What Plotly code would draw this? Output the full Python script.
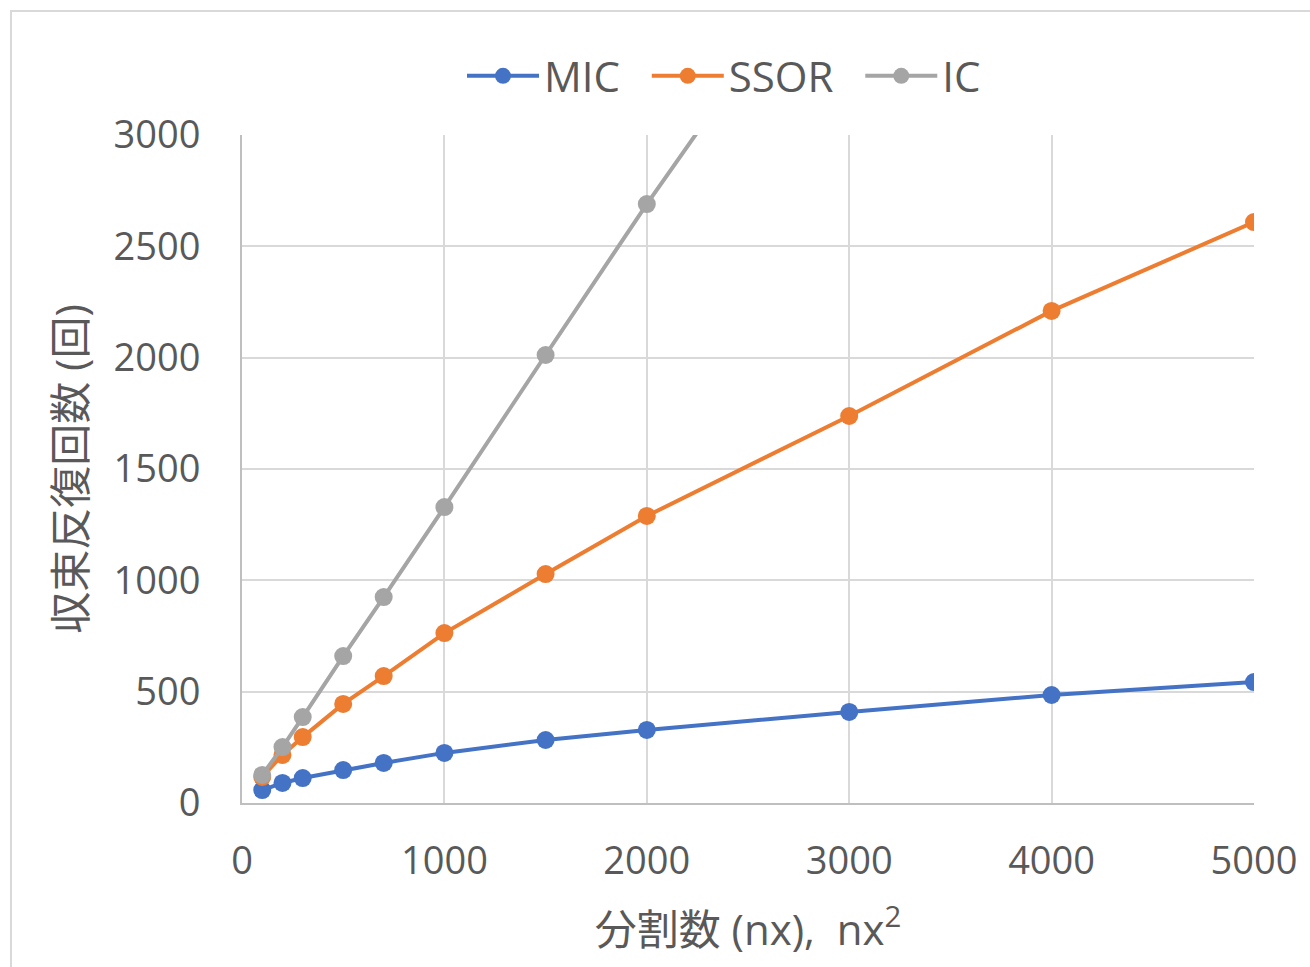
import plotly.graph_objects as go

nx = [100, 200, 300, 500, 700, 1000, 1500, 2000, 3000, 4000, 5000]
mic = [58, 90, 112, 148, 180, 225, 283, 328, 409, 485, 543]
ssor = [117, 216, 296, 445, 570, 763, 1028, 1289, 1738, 2210, 2609]
nx_ic = [100, 200, 300, 500, 700, 1000, 1500, 2000, 3000]
ic = [126, 251, 386, 660, 925, 1329, 2012, 2690, 3980]

series = [("MIC", nx, mic, "#4472C4"), ("SSOR", nx, ssor, "#ED7D31"), ("IC", nx_ic, ic, "#A5A5A5")]

W, H = 1310, 967
L, R, T, B = 242, 56, 135, 164
pw, ph = W - L - R, H - T - B

fig = go.Figure()
for name, xs, ys, c in series:
    fig.add_trace(go.Scatter(x=xs, y=ys, name=name + "\u00a0\u00a0", mode="lines+markers",
                             line=dict(color=c, width=4),
                             marker=dict(color=c, size=18)))

font = "Open Sans, Noto Sans CJK JP, sans-serif"
fig.update_layout(
    width=W, height=H,
    margin=dict(l=L, r=R, t=T, b=B),
    plot_bgcolor="white", paper_bgcolor="white",
    font=dict(family=font, color="#595959", size=38),
    legend=dict(orientation="h", x=(735 - L) / pw, xanchor="center", y=1 + (135 - 76) / ph,
                yanchor="middle", font=dict(size=42, color="#595959"), itemwidth=72,
                tracegroupgap=0),
    xaxis=dict(range=[0, 5000], tickvals=[0, 1000, 2000, 3000, 4000, 5000],
               showgrid=True, gridcolor="#D9D9D9", gridwidth=2,
               showline=True, linecolor="#BFBFBF", linewidth=2, mirror=False,
               zeroline=False, ticks="", tickfont=dict(size=38), ticklabelstandoff=23,
               title=dict(text="分割数 (nx),  nx<sup>2</sup>", font=dict(size=42), standoff=32)),
    yaxis=dict(range=[0, 3000], tickvals=[0, 500, 1000, 1500, 2000, 2500, 3000],
               showgrid=True, gridcolor="#D9D9D9", gridwidth=2,
               showline=True, linecolor="#BFBFBF", linewidth=2,
               zeroline=False, ticks="", tickfont=dict(size=38), ticklabelstandoff=32,
               title=dict(text="収束反復回数 (回)", font=dict(size=42), standoff=14)),
    shapes=[dict(type="rect", xref="paper", yref="paper",
                 x0=(11 - L) / pw, x1=(1400 - L) / pw,
                 y0=-(1100 - T - ph) / ph, y1=1 + (T - 11) / ph,
                 line=dict(color="#D9D9D9", width=2), layer="below")],
)
fig.write_html("out.html")
